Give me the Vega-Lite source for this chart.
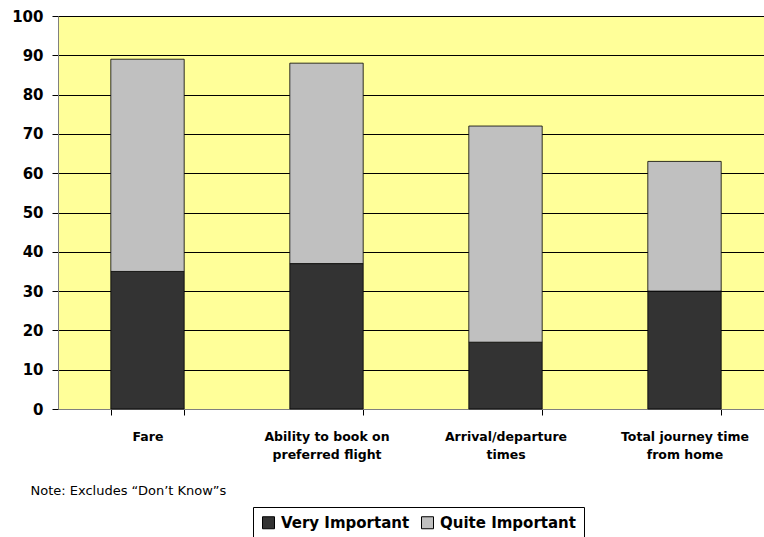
{
  "$schema": "https://vega.github.io/schema/vega-lite/v6.json",
  "width": 706,
  "height": 393,
  "autosize": {"type": "none"},
  "padding": {"left": 58, "top": 16, "right": 0, "bottom": 128},
  "background": "white",
  "config": {
    "font": "DejaVu Sans",
    "view": {"fill": "#FFFF99", "stroke": "#808080", "strokeWidth": 1}
  },
  "data": {
    "values": [
      {"factor": "Fare", "level": "Very Important", "value": 35},
      {"factor": "Fare", "level": "Quite Important", "value": 54},
      {"factor": "Ability to book on|preferred flight", "level": "Very Important", "value": 37},
      {"factor": "Ability to book on|preferred flight", "level": "Quite Important", "value": 51},
      {"factor": "Arrival/departure|times", "level": "Very Important", "value": 17},
      {"factor": "Arrival/departure|times", "level": "Quite Important", "value": 55},
      {"factor": "Total journey time|from home", "level": "Very Important", "value": 30},
      {"factor": "Total journey time|from home", "level": "Quite Important", "value": 33}
    ]
  },
  "mark": {"type": "bar", "stroke": "#000000", "strokeWidth": 0.8},
  "encoding": {
    "x": {
      "field": "factor",
      "type": "nominal",
      "sort": null,
      "scale": {"range": [0, 716], "paddingInner": 0.59, "paddingOuter": 0.295},
      "axis": {
        "title": "Note: Excludes “Don’t Know”s",
        "titleAnchor": "start",
        "titleAlign": "left",
        "titleX": -28,
        "titleFontWeight": "normal",
        "titleFontSize": 13,
        "titleColor": "#000000",
        "titlePadding": 24,
        "labelExpr": "split(datum.label, '|')",
        "labelAngle": 0,
        "labelFont": "DejaVu Sans",
        "labelFontWeight": "bold",
        "labelFontSize": 12.5,
        "labelColor": "#000000",
        "labelPadding": 15,
        "labelLineHeight": 18,
        "tickBand": "extent",
        "tickColor": "#000000",
        "tickSize": 6,
        "domainColor": "#808080",
        "grid": false
      }
    },
    "y": {
      "field": "value",
      "type": "quantitative",
      "stack": "zero",
      "scale": {"domain": [0, 100], "nice": false},
      "axis": {
        "title": null,
        "values": [0, 10, 20, 30, 40, 50, 60, 70, 80, 90, 100],
        "labelFontWeight": "bold",
        "labelFontSize": 15,
        "labelColor": "#000000",
        "labelPadding": 9,
        "tickColor": "#000000",
        "tickSize": 6,
        "gridColor": "#000000",
        "gridWidth": 1,
        "domainColor": "#808080"
      }
    },
    "color": {
      "field": "level",
      "type": "nominal",
      "sort": ["Very Important", "Quite Important"],
      "scale": {"domain": ["Very Important", "Quite Important"], "range": ["#333333", "#C0C0C0"]},
      "legend": {
        "title": null,
        "orient": "none",
        "legendX": 195,
        "legendY": 491,
        "direction": "horizontal",
        "symbolType": "square",
        "symbolSize": 144,
        "symbolStrokeColor": "#000000",
        "symbolStrokeWidth": 1,
        "labelFontWeight": "bold",
        "labelFontSize": 15,
        "labelColor": "#000000",
        "labelOffset": 5,
        "strokeColor": "#000000",
        "fillColor": "white",
        "padding": 8,
        "columnPadding": 9
      }
    },
    "order": {"field": "level", "sort": "descending"}
  }
}
